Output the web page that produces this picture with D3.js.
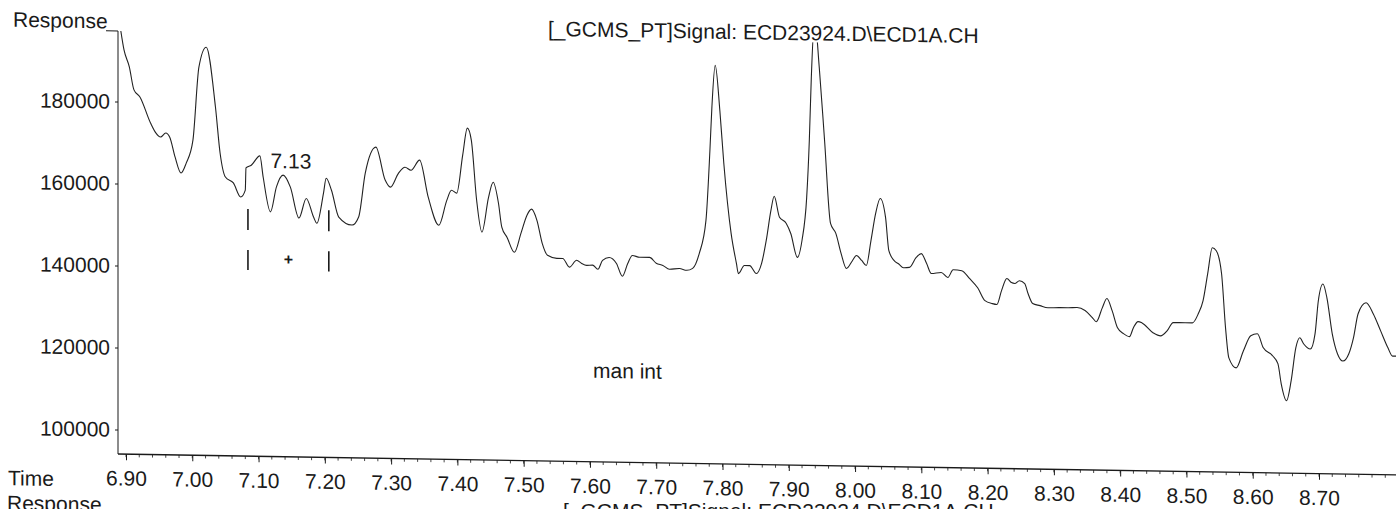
<!DOCTYPE html>
<html><head><meta charset="utf-8">
<script src="https://cdn.jsdelivr.net/npm/d3@7"></script>
<style>
html,body{margin:0;padding:0;background:#fff;overflow:hidden;}
svg{display:block;font-family:"Liberation Sans",Arial,sans-serif;}
</style></head><body>
<svg id="c" width="1396" height="509"></svg>
<script>
// ---- data ----
const times = [6.891,6.897,6.905,6.912,6.921,6.937,6.945,6.952,6.960,6.966,6.974,6.983,6.991,7.001,7.010,7.021,7.035,7.042,7.050,7.062,
7.073,7.080,7.081,7.089,7.102,7.107,7.118,7.127,7.137,7.148,7.161,7.172,7.183,7.188,7.198,7.202,7.210,7.221,7.241,7.251,
7.261,7.277,7.291,7.299,7.311,7.321,7.330,7.343,7.356,7.372,7.384,7.391,7.399,7.408,7.415,7.421,7.429,7.437,7.447,7.454,
7.462,7.467,7.475,7.486,7.496,7.505,7.512,7.520,7.528,7.536,7.550,7.559,7.569,7.580,7.587,7.595,7.604,7.612,7.619,7.629,
7.640,7.649,7.657,7.664,7.675,7.690,7.700,7.710,7.720,7.735,7.746,7.755,7.765,7.775,7.781,7.784,7.789,7.796,7.802,7.813,
7.821,7.824,7.833,7.841,7.851,7.859,7.866,7.873,7.878,7.886,7.896,7.903,7.913,7.920,7.927,7.931,7.934,7.939,7.946,7.954,
7.963,7.971,7.979,7.987,7.996,8.002,8.010,8.017,8.024,8.031,8.038,8.046,8.051,8.059,8.066,8.073,8.082,8.092,8.100,8.108,
8.115,8.130,8.140,8.148,8.161,8.173,8.185,8.196,8.207,8.214,8.221,8.229,8.236,8.241,8.248,8.256,8.261,8.268,8.279,8.291,
8.309,8.321,8.335,8.347,8.358,8.364,8.373,8.380,8.388,8.396,8.405,8.414,8.420,8.427,8.433,8.450,8.461,8.471,8.480,8.498,
8.509,8.518,8.525,8.532,8.539,8.545,8.553,8.559,8.564,8.575,8.586,8.597,8.607,8.616,8.630,8.638,8.643,8.651,8.658,8.665,
8.671,8.677,8.687,8.694,8.699,8.706,8.712,8.720,8.728,8.736,8.745,8.752,8.759,8.771,8.782,8.793,8.804,8.811,8.821];
const response = [198500,192600,188500,182900,181200,174900,172500,171500,172500,171500,166700,162800,165300,170900,188700,193600,179000,167800,162000,160600,
157200,158900,164300,165000,167300,162100,153700,159800,162700,159800,152300,157100,152600,151100,158500,162100,159200,152700,150800,152800,
163500,169900,161900,160200,163600,165100,164400,166900,157900,151100,157200,159700,159000,168300,174900,172000,157400,149600,158100,161800,
156700,150900,148400,144800,149500,153900,155400,152700,147100,144200,143500,143500,141400,143100,142400,141900,142000,141000,143200,143900,
142500,139400,142500,144500,144100,144100,142700,142200,141300,141500,141100,141600,145300,153300,170400,181000,191200,180200,167300,150300,
143000,140500,142500,142500,140600,143100,148700,156000,159500,154400,153000,150500,144700,148900,159300,173300,188600,203000,191100,173300,
153100,150700,145800,142200,144100,145400,144200,143000,149100,155700,159400,154800,146700,144300,143500,142600,142700,145100,146100,143700,
141300,141600,140400,142300,142100,140200,138000,134900,134200,134000,137400,140400,139400,139200,139900,139200,136800,134400,133900,133400,
133500,133500,133600,132900,131200,130200,133600,135900,132900,128800,127400,126700,128900,130400,130100,127700,127000,128300,130300,130300,
130300,132600,135700,142300,148700,148000,142400,129200,121900,119500,123700,127400,127900,124500,122600,120700,115800,111700,116600,124600,
127100,125600,124400,128100,136200,140300,136900,128200,123300,121600,123400,127300,133200,135900,133200,129100,125000,123000,123000];
const xTickValues = [6.90,7.00,7.10,7.20,7.30,7.40,7.50,7.60,7.70,7.80,7.90,8.00,8.10,8.20,8.30,8.40,8.50,8.60,8.70];
const yTickValues = [100000,120000,140000,160000,180000];
const titleText = "[_GCMS_PT]Signal: ECD23924.D\\ECD1A.CH";
const nextTitleText = "[_GCMS_PT]Signal: ECD23924.D\\ECD1A.CH";
const peakLabel = "7.13";
const peakTime = 7.13;
const integrationMarks = [7.084, 7.206];
const integrationMid = 7.145;
const markerBands = [[149200,154300],[139400,144300]];
const markerMidValue = 142200;
const annotation = "man int";

// ---- layout ----
const L = 118, T = 31, B = 454, R = 1420;
const k = 0.0164; // slight scan tilt
const svg = d3.select("#c");
const g = svg.append("g").attr("transform", `matrix(1,${k},0,1,0,${-k*L})`);

const x = d3.scaleLinear().domain([6.90, 8.70]).range([126, 1319]);
const y = d3.scaleLinear().domain([100000, 180000]).range([429.5, 101.5]);

const FS = 21;
const ink = "#1a1a1a";

// clip
svg.append("defs").append("clipPath").attr("id","plot")
  .append("rect").attr("x",L).attr("y",T).attr("width",R-L).attr("height",B-T);

// y axis
const yAxis = d3.axisLeft(y).tickValues(yTickValues).tickFormat(d=>String(d)).tickSize(3).tickPadding(5);
const ya = g.append("g").attr("transform",`translate(${L},0)`).call(yAxis);
ya.select(".domain").remove();
ya.selectAll("text").attr("font-size",FS).attr("fill",ink).attr("font-family","Liberation Sans, Arial, sans-serif");
ya.selectAll("line").attr("stroke",ink);
g.append("line").attr("x1",L).attr("x2",L).attr("y1",T).attr("y2",B).attr("stroke",ink).attr("stroke-width",1);

// x axis
const xAxis = d3.axisBottom(x).tickValues(xTickValues).tickFormat(d3.format(".2f")).tickSize(6).tickPadding(0);
const xa = g.append("g").attr("transform",`translate(0,${B})`).call(xAxis);
xa.select(".domain").remove();
xa.selectAll("text").attr("font-size",FS).attr("fill",ink).attr("dy",null).attr("y",31.5)
  .attr("font-family","Liberation Sans, Arial, sans-serif");
xa.selectAll("line").attr("stroke",ink);
const minor = d3.range(0, 97).map(i => +(6.88 + i*0.02).toFixed(2)).filter(v => x(v) > L && x(v) < R);
g.append("g").selectAll("line").data(minor).join("line")
  .attr("x1",d=>x(d)).attr("x2",d=>x(d)).attr("y1",B).attr("y2",B+3).attr("stroke",ink).attr("stroke-width",0.8);
g.append("line").attr("x1",L).attr("x2",R).attr("y1",B).attr("y2",B).attr("stroke",ink).attr("stroke-width",1.3);

// labels
g.append("text").attr("x",13).attr("y",28.5).attr("font-size",FS).attr("fill",ink).text("Response");
g.append("line").attr("x1",106).attr("x2",L).attr("y1",T).attr("y2",T).attr("stroke",ink).attr("stroke-width",1);
g.append("text").attr("x",8).attr("y",487).attr("font-size",FS).attr("fill",ink).text("Time");
g.append("text").attr("x",7).attr("y",512).attr("font-size",FS).attr("fill",ink).text("Response");
g.append("text").attr("x",548).attr("y",29).attr("font-size",FS).attr("fill",ink).text(titleText);
// next (cut-off) chart title, not tilted in the scan
svg.append("text").attr("x",563).attr("y",518).attr("font-size",FS).attr("fill",ink).text(nextTitleText);

// trace
const pts = times.map((t,i)=>[t, response[i]]);
const line = d3.line().x(d=>x(d[0])).y(d=>y(d[1])).curve(d3.curveMonotoneX);
g.append("path").attr("clip-path","url(#plot)").attr("d", line(pts))
  .attr("fill","none").attr("stroke","#222").attr("stroke-width",1.1);

// integration marks
integrationMarks.forEach(t => {
  markerBands.forEach(b => {
    g.append("line").attr("x1",x(t)).attr("x2",x(t)).attr("y1",y(b[1])).attr("y2",y(b[0]))
      .attr("stroke",ink).attr("stroke-width",1.6);
  });
});
g.append("text").attr("x",x(integrationMid)).attr("y",y(markerMidValue)).attr("dy","0.35em")
  .attr("text-anchor","middle").attr("font-size",16).attr("font-weight","bold").attr("fill",ink).text("+");
g.append("text").attr("x",x(peakTime)-8).attr("y",165.5).attr("font-size",FS).attr("fill",ink).text(peakLabel);
g.append("text").attr("x",593).attr("y",370).attr("font-size",FS).attr("fill",ink).text(annotation);
</script>
</body></html>
